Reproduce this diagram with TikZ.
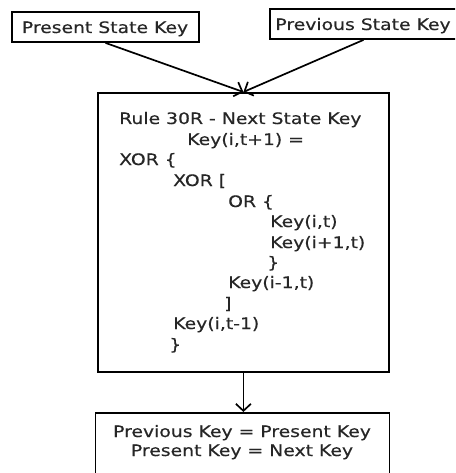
\documentclass[tikz,border=0pt]{standalone}
\usepackage{fontspec}
\setmainfont{DejaVu Sans}[FakeStretch=1.19,FakeBold=0.4]
\usetikzlibrary{arrows.meta}
\begin{document}
\begin{tikzpicture}[x=1pt,y=-1pt,
  box/.style={draw=black,line width=1.8pt,fill=white,inner sep=0pt},
  txt/.style={anchor=base west,inner sep=0pt,text=black!85,font=\fontsize{15.8}{18}\selectfont},
  ctxt/.style={anchor=base,inner sep=0pt,text=black!85,font=\fontsize{15.8}{18}\selectfont},
  conn/.style={line width=1.7pt,-{Straight Barb[length=7pt,width=15pt,line width=1.7pt]}}]
\useasboundingbox (0,0) rectangle (455,473);
\clip (0,0) rectangle (455,473);
% top boxes
\node (pres) [box,minimum width=187pt,minimum height=30pt] at (105.5,27) {};
\node (prev) [box,minimum width=187pt,minimum height=30pt] at (363.5,24) {};
\node (presT) [ctxt] at (105,33) {Present State Key};
\node (prevT) [ctxt] at (363,30) {Previous State Key};
% main box
\node (main) [box,minimum width=291pt,minimum height=279pt,anchor=north west] at (97,92) {};
\node (l1) [txt] at (119,124) {Rule 30R - Next State Key};
\node (l2) [txt] at (187,145) {Key(i,t+1) =};
\node (l3) [txt] at (119,165) {XOR \{};
\node (l4) [txt] at (173,186) {XOR [};
\node (l5) [txt] at (228,207) {OR \{};
\node (l6) [txt] at (270,227) {Key(i,t)};
\node (l7) [txt] at (270,248) {Key(i+1,t)};
\node (l8) [txt] at (267,268) {\}};
\node (l9) [txt] at (228,288) {Key(i-1,t)};
\node (l10) [txt] at (224,309) {]};
\node (l11) [txt] at (173,329) {Key(i,t-1)};
\node (l12) [txt] at (169,350) {\}};
% bottom box
\node (fin) [box,minimum width=294pt,minimum height=72pt,anchor=north] at (242.5,412) {};
\node (f1) [ctxt] at (242,437) {Previous Key = Present Key};
\node (f2) [ctxt] at (242,456) {Present Key = Next Key};
% connectors
\draw[conn] (pres.south) -- (main.north);
\draw[conn] (prev.south) -- (main.north);
\draw[conn] (main.south) -- (main.south |- fin.north);
\end{tikzpicture}
\end{document}
